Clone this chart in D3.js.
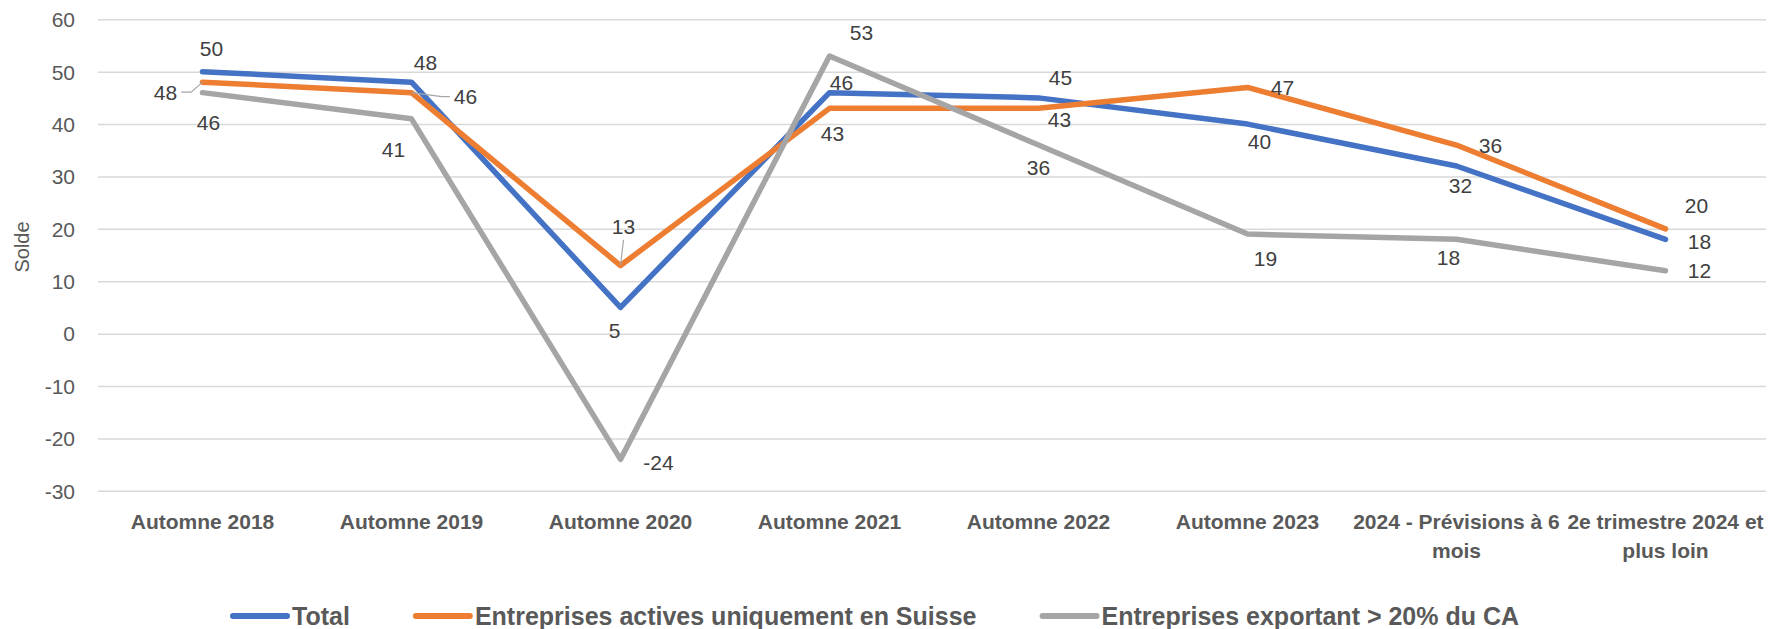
<!DOCTYPE html>
<html lang="fr">
<head>
<meta charset="UTF-8"/>
<title>Solde</title>
<style>
  body { margin: 0; background: #ffffff; }
  svg { display: block; font-family: "Liberation Sans", Arial, sans-serif; }
  .grid line { stroke: #d9d9d9; stroke-width: 1.5; }
  .grid path { stroke-width: 0; }
  .ytick text { font-size: 21px; fill: #595959; }
  .ytick path, .ytick line { display: none; }
  .xlab { font-size: 21px; font-weight: bold; fill: #595959; }
  .value { font-size: 21px; fill: #404040; }
  .leader { stroke: #a6a6a6; stroke-width: 1.2; fill: none; }
  .legend text { font-size: 25px; font-weight: bold; fill: #595959; }
  .axis-title { font-size: 20px; fill: #595959; }
</style>
</head>
<body>
<svg width="1770" height="629"></svg>
<script src="https://d3js.org/d3.v7.min.js"></script>
<script>
const categories = ['Automne 2018', 'Automne 2019', 'Automne 2020', 'Automne 2021',
  'Automne 2022', 'Automne 2023', '2024 - Prévisions à 6 mois', '2e trimestre 2024 et plus loin'];
const seriesNames = ['Total', 'Entreprises actives uniquement en Suisse', 'Entreprises exportant > 20% du CA'];
const total = [50, 48, 5, 46, 45, 40, 32, 18];
const suisse = [48, 46, 13, 43, 43, 47, 36, 20];
const export20 = [46, 41, -24, 53, 36, 19, 18, 12];
const yTicks = [-30, -20, -10, 0, 10, 20, 30, 40, 50, 60];
const colors = ['#4472c4', '#ed7d31', '#a5a5a5'];

// label offsets from the point (px), as placed in the original
const labelOffsets = [
  [[9, -23], [14, -20], [-6, 23], [12, -10], [22, -20], [12, 18], [4, 20], [34, 2]],
  [[-37, 10], [54, 4], [3, -39], [3, 25], [21, 11], [35, 0], [34, 1], [31, -23]],
  [[6, 30], [-18, 31], [38, 3], [32, -23], [0, 23], [18, 25], [-8, 18], [34, 0]]
];
const leaders = [[], [0, 1, 2], []];

const series = [total, suisse, export20].map((values, k) => ({
  name: seriesNames[k], color: colors[k], values: values
}));

const svg = d3.select('svg');
const plotLeft = 98, plotRight = 1770, plotTop = 19.3, plotBottom = 490.8;

const x = d3.scaleBand().domain(categories).range([plotLeft, plotRight]);
const y = d3.scaleLinear().domain([-30, 60]).range([plotBottom, plotTop]);
const cx = (c) => x(c) + x.bandwidth() / 2;

svg.append('g')
  .attr('class', 'grid')
  .attr('transform', `translate(${plotLeft},0)`)
  .call(d3.axisLeft(y).tickValues(yTicks).tickSize(-(plotRight - 4 - plotLeft)).tickFormat(''));

svg.append('g')
  .attr('class', 'ytick')
  .attr('transform', `translate(${plotLeft - 23},0)`)
  .call(d3.axisLeft(y).tickValues(yTicks).tickSize(0).tickPadding(0).tickFormat((d) => String(d)))
  .call(g => g.selectAll('text').attr('dy', '0.35em'));

svg.append('text')
  .attr('class', 'axis-title')
  .attr('transform', 'translate(29,247) rotate(-90)')
  .attr('text-anchor', 'middle')
  .text('Solde');

// category labels, wrapped to the band width
const xl = svg.append('g');
categories.forEach((c) => {
  const t = xl.append('text')
    .attr('class', 'xlab')
    .attr('x', cx(c))
    .attr('y', 529)
    .attr('text-anchor', 'middle');
  const words = c.split(' ');
  let lineWords = [];
  let tspan = t.append('tspan').attr('x', cx(c)).attr('dy', 0);
  words.forEach((w) => {
    lineWords.push(w);
    tspan.text(lineWords.join(' '));
    if (tspan.node().getComputedTextLength() > x.bandwidth() + 8 && lineWords.length > 1) {
      lineWords.pop();
      tspan.text(lineWords.join(' '));
      lineWords = [w];
      tspan = t.append('tspan').attr('x', cx(c)).attr('dy', 29).text(w);
    }
  });
});

const line = d3.line()
  .x((d, i) => cx(categories[i]))
  .y((d) => y(d));

svg.append('g').selectAll('path')
  .data(series)
  .join('path')
  .attr('d', (s) => line(s.values))
  .attr('fill', 'none')
  .attr('stroke', (s) => s.color)
  .attr('stroke-width', 5.5)
  .attr('stroke-linejoin', 'round')
  .attr('stroke-linecap', 'round');

const labels = svg.append('g');
series.forEach((s, k) => {
  s.values.forEach((v, i) => {
    const px = cx(categories[i]);
    const py = y(v);
    const [dx, dy] = labelOffsets[k][i];
    const t = labels.append('text')
      .attr('class', 'value')
      .attr('x', px + dx)
      .attr('y', py + dy)
      .attr('dy', '0.35em')
      .attr('text-anchor', 'middle')
      .text(v);
    if (leaders[k].includes(i)) {
      const b = t.node().getBBox();
      let sx, sy;
      if (Math.abs(dx) > Math.abs(dy)) {
        sx = dx > 0 ? b.x - 4 : b.x + b.width + 4;
        sy = py + dy;
        const mx = dx > 0 ? sx - 8 : sx + 10;
        labels.append('path').attr('class', 'leader')
          .attr('d', `M${sx},${sy}H${mx}L${px},${py}`);
      } else {
        sx = px + dx;
        sy = dy > 0 ? b.y - 2 : b.y + b.height + 2;
        labels.append('path').attr('class', 'leader')
          .attr('d', `M${sx},${sy}L${px},${py}`);
      }
    }
  });
});

// legend
const legend = svg.append('g').attr('class', 'legend');
const items = legend.selectAll('g')
  .data(series)
  .join('g');
items.append('line')
  .attr('x1', 0).attr('x2', 54)
  .attr('y1', 0).attr('y2', 0)
  .attr('stroke', (s) => s.color)
  .attr('stroke-width', 6)
  .attr('stroke-linecap', 'round');
items.append('text')
  .attr('x', 59)
  .attr('dy', '0.35em')
  .text((s) => s.name);
let off = 233;
items.each(function () {
  d3.select(this).attr('transform', `translate(${off},616)`);
  off += this.getBBox().width + 66;
});
</script>
</body>
</html>
